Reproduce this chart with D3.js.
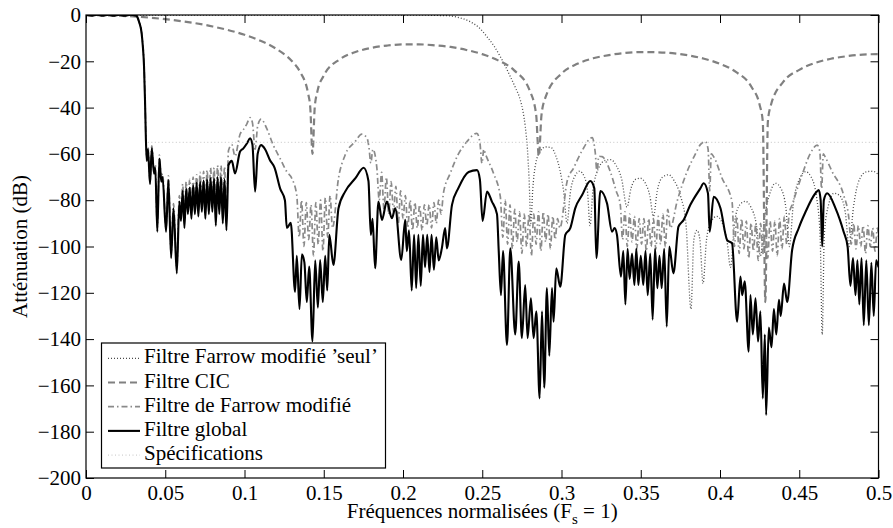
<!DOCTYPE html>
<html>
<head>
<meta charset="utf-8">
<script src="https://cdn.jsdelivr.net/npm/d3@7"></script>
<style>
body { margin: 0; background: white; }
</style>
</head>
<body>
<div id="canvas"></div>
<script>
"use strict"

/* Values: [normalised frequency, attenuation in dB] */
let farrowSeul = [
    [0, 0], [0.2, 0], [0.228, -0.3], [0.234, -0.9], [0.2424, -2.9], [0.248, -5.5], [0.253, -9.4],
    [0.2575, -13.5], [0.2614, -18], [0.2645, -22], [0.2677, -26.6], [0.271, -31.5], [0.274, -36.7],
    [0.2758, -42], [0.2771, -48], [0.2785, -58], [0.2795, -70], [0.2807, -90], [0.2818, -76],
    [0.2835, -65], [0.2865, -59], [0.29, -57], [0.2935, -57.3], [0.2965, -61], [0.299, -67],
    [0.3015, -77], [0.3035, -90], [0.3055, -77], [0.3085, -69.5], [0.3115, -67.5], [0.3145, -70],
    [0.3165, -77], [0.318, -91], [0.3198, -76], [0.3235, -66], [0.3275, -62.8], [0.331, -62.5],
    [0.3345, -65], [0.338, -71], [0.3413, -83], [0.3438, -75], [0.3467, -71], [0.3497, -70.5],
    [0.3528, -72.5], [0.3557, -78], [0.358, -87], [0.3604, -76], [0.3638, -70], [0.3676, -69],
    [0.371, -71.5], [0.375, -78], [0.3785, -90], [0.3817, -127], [0.3835, -97], [0.3855, -93],
    [0.3873, -97], [0.3893, -116], [0.3915, -97], [0.3945, -89], [0.398, -87], [0.4015, -90],
    [0.4045, -98], [0.4066, -109], [0.4093, -89], [0.4125, -82], [0.416, -80.5], [0.4195, -83],
    [0.4228, -90], [0.4255, -104], [0.428, -88], [0.4315, -77], [0.435, -72.7], [0.4385, -75],
    [0.4415, -83], [0.4438, -100], [0.4462, -82], [0.45, -71], [0.454, -67.7], [0.4575, -70],
    [0.461, -79], [0.4632, -96], [0.4645, -138], [0.4658, -95], [0.4685, -82], [0.472, -77],
    [0.4755, -78], [0.479, -85], [0.4815, -100], [0.4842, -83], [0.488, -71], [0.4925, -67.7],
    [0.4965, -67.5], [0.5, -69]
];

let cic = [
    [0, 0], [0.02, -0.28], [0.04, -1.13], [0.06, -2.63], [0.08, -4.97], [0.1, -8.54], [0.11, -11.1],
    [0.12, -14.6], [0.13, -20], [0.135, -24.5], [0.14, -33.5], [0.1415, -40], [0.1429, -60],
    [0.1443, -40], [0.146, -33], [0.15, -26.2], [0.16, -19.2], [0.17, -16], [0.18, -14.2],
    [0.19, -13.2], [0.2, -12.7], [0.21, -12.7], [0.22, -13.1], [0.23, -13.8], [0.24, -15.1],
    [0.25, -16.9], [0.26, -19.6], [0.27, -23.8], [0.28, -32.7], [0.284, -43], [0.2857, -61],
    [0.2874, -43], [0.29, -35.4], [0.3, -25.3], [0.31, -21.1], [0.32, -18.7], [0.33, -17.3],
    [0.34, -16.4], [0.35, -16], [0.36, -16.1], [0.37, -16.5], [0.38, -17.4], [0.39, -18.9],
    [0.4, -21.1], [0.41, -24.6], [0.42, -31.2], [0.425, -38.8], [0.427, -46], [0.4286, -124],
    [0.4302, -46], [0.432, -39.2], [0.44, -28.8], [0.45, -23.7], [0.46, -20.7], [0.47, -18.9],
    [0.48, -17.8], [0.49, -17.1], [0.5, -16.9]
];

let farrowModifie = [
    [0, 0], [0.031, 0], [0.032, -0.5], [0.0335, -3], [0.0351, -7.5], [0.0358, -12.5], [0.0366, -21],
    [0.0372, -35], [0.0377, -50], [0.0383, -61],
    [0.0391, -57], [0.0404, -72], [0.0415, -56.5], [0.0429, -67.5], [0.0437, -64.5], [0.045, -92],
    [0.0463, -60.5], [0.0475, -70.5], [0.0483, -68.5], [0.0505, -92], [0.052, -69.5], [0.0537, -103],
    [0.0552, -81.5], [0.0573, -109], [0.0589, -78],
    [0.0599, -86], [0.061, -73], [0.0621, -89], [0.0632, -72], [0.0643, -83], [0.0654, -71],
    [0.0665, -84.5], [0.0676, -70], [0.0687, -82.5], [0.0698, -69], [0.0709, -83], [0.072, -68],
    [0.0731, -81], [0.0742, -67.5], [0.0753, -83.5], [0.0764, -67], [0.0775, -81.5], [0.0786, -66],
    [0.0797, -80], [0.0808, -66], [0.0819, -85.5], [0.083, -65], [0.0841, -80.5], [0.0852, -65],
    [0.0863, -84.5], [0.0874, -65.5], [0.0886, -87],
    [0.0899, -58.5], [0.092, -56], [0.094, -61], [0.0972, -51.5], [0.0993, -49.5], [0.1015, -47],
    [0.1035, -44.3], [0.105, -46.5], [0.1067, -58], [0.1083, -48], [0.1105, -45], [0.114, -49],
    [0.118, -56], [0.1225, -62], [0.1267, -67.7], [0.1298, -70.5], [0.133, -78],
    [0.1345, -96], [0.136, -80], [0.1375, -100], [0.139, -81], [0.1405, -97], [0.142, -82],
    [0.1435, -104], [0.145, -81], [0.1465, -99], [0.148, -80], [0.1495, -102], [0.151, -79],
    [0.1525, -96], [0.154, -78], [0.1555, -92],
    [0.1593, -70.5], [0.1635, -60.5], [0.1698, -54.7], [0.174, -51.5], [0.1772, -53], [0.1785, -57],
    [0.1797, -64], [0.181, -58], [0.1835, -66],
    [0.185, -80], [0.1865, -68], [0.188, -84], [0.1895, -70], [0.191, -86], [0.1925, -72],
    [0.194, -85], [0.1955, -74], [0.197, -90], [0.1985, -76], [0.2, -88], [0.2015, -78],
    [0.203, -92], [0.2045, -80], [0.206, -93], [0.2075, -81], [0.209, -92], [0.2105, -82],
    [0.212, -93], [0.2135, -82], [0.215, -91], [0.2165, -82], [0.218, -92], [0.2195, -81],
    [0.221, -90], [0.2225, -80], [0.224, -86],
    [0.2255, -77], [0.2298, -68.4], [0.235, -60], [0.24, -55], [0.2466, -51.1], [0.2485, -55],
    [0.2498, -64], [0.251, -58], [0.2519, -59.8], [0.2571, -68.4], [0.2614, -78.5],
    [0.263, -96], [0.2645, -80], [0.266, -99], [0.2675, -82], [0.269, -101], [0.2705, -84],
    [0.272, -98], [0.2735, -85], [0.275, -103], [0.2765, -86], [0.278, -100], [0.2795, -86],
    [0.281, -104], [0.2825, -86], [0.284, -99], [0.2855, -85], [0.287, -102], [0.2885, -85],
    [0.29, -98], [0.2915, -86], [0.293, -101], [0.2945, -87], [0.296, -97], [0.2975, -88],
    [0.299, -92],
    [0.3035, -72], [0.3077, -66], [0.313, -58.6], [0.3193, -53], [0.3213, -59.5], [0.3224, -68],
    [0.3235, -61], [0.3256, -61.2], [0.3308, -67.7], [0.3345, -76], [0.3371, -82],
    [0.3385, -97], [0.34, -85], [0.3415, -100], [0.343, -86], [0.3445, -98], [0.346, -87],
    [0.3475, -101], [0.349, -88], [0.3505, -99], [0.352, -88], [0.3535, -102], [0.355, -88],
    [0.3565, -100], [0.358, -88], [0.3595, -101], [0.361, -87], [0.3625, -99], [0.364, -86],
    [0.3655, -100], [0.367, -84], [0.3687, -92],
    [0.3729, -80.6], [0.3792, -67.7], [0.3845, -60], [0.3876, -56], [0.3908, -54.7], [0.3925, -58],
    [0.3935, -76], [0.3945, -60], [0.396, -61.2], [0.4013, -70.5], [0.4076, -80.6],
    [0.4091, -100], [0.4106, -87], [0.4121, -103], [0.4136, -88], [0.4151, -101], [0.4166, -89],
    [0.4181, -105], [0.4196, -90], [0.4211, -102], [0.4226, -90], [0.4241, -106], [0.4256, -90],
    [0.4271, -103], [0.4286, -90], [0.4301, -105], [0.4316, -89], [0.4331, -102], [0.4346, -89],
    [0.4361, -104], [0.4376, -88], [0.4391, -101], [0.4406, -87], [0.4421, -99], [0.4436, -86],
    [0.4455, -82], [0.4518, -69], [0.457, -59.8], [0.4613, -56.2], [0.463, -59], [0.4641, -75],
    [0.4652, -60], [0.4665, -61.5], [0.4708, -67.7], [0.478, -77.8], [0.4813, -87.8],
    [0.4828, -99], [0.4843, -90], [0.4858, -101], [0.4873, -91], [0.4888, -100], [0.4903, -91],
    [0.4918, -103], [0.4933, -91], [0.4948, -100], [0.4963, -92], [0.4978, -102], [0.4993, -92],
    [0.5, -96]
];

let filtreGlobal = [
    [0, 0], [0.0035, -0.35], [0.007, 0.15], [0.0105, -0.35], [0.014, 0.15], [0.0175, -0.35],
    [0.021, 0.15], [0.0245, -0.35], [0.028, 0.15], [0.031, -0.2], [0.032, -0.5], [0.0335, -3],
    [0.0351, -7.9], [0.0358, -13], [0.0366, -22], [0.0372, -36], [0.0377, -51], [0.0383, -63],
    [0.0391, -58], [0.0404, -73], [0.0415, -57.6], [0.0429, -68.5], [0.0437, -66], [0.045, -93.6],
    [0.0463, -62], [0.0475, -72], [0.0483, -70], [0.0505, -93.6], [0.052, -71.3], [0.0537, -105],
    [0.0552, -83.5], [0.0573, -111.6], [0.0589, -80.6],
    [0.0599, -89], [0.061, -76], [0.0621, -92], [0.0632, -75], [0.0643, -86], [0.0654, -74.5],
    [0.0665, -88], [0.0676, -73.5], [0.0687, -86], [0.0698, -72.5], [0.0709, -87], [0.072, -72],
    [0.0731, -85], [0.0742, -71.5], [0.0753, -88], [0.0764, -71], [0.0775, -86], [0.0786, -70.5],
    [0.0797, -85], [0.0808, -70.5], [0.0819, -91], [0.083, -70], [0.0841, -86], [0.0852, -70],
    [0.0863, -90], [0.0874, -71], [0.0886, -93],
    [0.0899, -64.8], [0.092, -63], [0.094, -68.4], [0.0972, -59], [0.0993, -57.6], [0.1015, -55.5],
    [0.1035, -53.3], [0.105, -56], [0.1067, -76.3], [0.1083, -60], [0.1105, -56.2], [0.113, -58],
    [0.116, -62.6], [0.119, -66], [0.1225, -75], [0.1255, -80], [0.1267, -92], [0.1292, -89.8],
    [0.1319, -119.6], [0.133, -104], [0.1347, -127], [0.1362, -103.4], [0.1378, -107],
    [0.1393, -124], [0.1408, -108.7], [0.1429, -141], [0.1446, -106], [0.1463, -126.4],
    [0.1477, -105.8], [0.1494, -124], [0.1509, -104], [0.1522, -119], [0.1535, -95],
    [0.1561, -108], [0.1593, -83.5], [0.1635, -76.3], [0.17, -70.5], [0.1752, -66],
    [0.1782, -71.7], [0.1797, -95], [0.1808, -88], [0.1824, -109.4], [0.1845, -80.6],
    [0.1867, -88.5], [0.1898, -80.6], [0.193, -87.8], [0.1951, -83.5], [0.1989, -105.8],
    [0.2014, -88.5], [0.2024, -102],
    [0.2038, -93], [0.2055, -119], [0.207, -95], [0.2083, -118], [0.2097, -95], [0.2112, -117],
    [0.2126, -95], [0.2139, -109], [0.2153, -95], [0.2167, -111], [0.218, -95], [0.2195, -110],
    [0.221, -96], [0.2225, -106], [0.2245, -100.8], [0.2266, -92], [0.2277, -100.8],
    [0.2309, -82], [0.235, -74.7], [0.2414, -67.8], [0.2467, -67], [0.2485, -71], [0.2502, -89],
    [0.253, -76.3], [0.2561, -80.6], [0.2593, -86], [0.2604, -102], [0.2618, -121], [0.2631, -102],
    [0.2656, -142.5], [0.2677, -100.8], [0.2708, -138], [0.273, -106.5], [0.275, -139.6],
    [0.2771, -116.6], [0.2786, -139.6], [0.2807, -122.4], [0.2824, -139.6], [0.2841, -128],
    [0.2862, -165.6], [0.2877, -128], [0.2891, -161], [0.2908, -118], [0.2923, -147.2],
    [0.294, -118], [0.295, -132.5], [0.2967, -109.4], [0.2992, -117.4], [0.3024, -95],
    [0.3056, -92], [0.3087, -83.4], [0.313, -77.8], [0.3182, -71.7], [0.3207, -74.9],
    [0.322, -105], [0.3245, -76], [0.3287, -81.3], [0.3319, -93.6], [0.3335, -92], [0.335, -95],
    [0.3375, -113],
    [0.339, -102], [0.3403, -125], [0.3417, -101], [0.343, -114], [0.3445, -103], [0.346, -116.6],
    [0.3472, -101], [0.3485, -116.6], [0.35, -104], [0.3516, -116.6], [0.353, -102], [0.3544, -121],
    [0.356, -103], [0.3575, -131.6], [0.359, -101], [0.3605, -118], [0.3618, -104], [0.3632, -118],
    [0.3648, -101], [0.3664, -134.6],
    [0.368, -100], [0.3706, -111.6], [0.3738, -91.4], [0.377, -88.6], [0.3813, -82],
    [0.3876, -74.9], [0.3897, -72.7], [0.3924, -77], [0.3935, -93.6], [0.396, -78.5],
    [0.4003, -83.5], [0.4045, -97.2], [0.4076, -98.6], [0.4108, -132.5], [0.4129, -113],
    [0.414, -121], [0.4156, -115], [0.4181, -145.4], [0.4192, -121], [0.4207, -138],
    [0.4224, -122.4], [0.424, -141], [0.4255, -128], [0.427, -165.6], [0.4283, -138],
    [0.4291, -172.8], [0.4308, -135], [0.4325, -143.5], [0.434, -127], [0.4355, -138],
    [0.4372, -123], [0.4383, -130], [0.4404, -116], [0.4424, -124], [0.4455, -101.5],
    [0.4497, -92], [0.454, -85], [0.4602, -77], [0.4623, -75.6], [0.4635, -80], [0.4645, -100],
    [0.4655, -80], [0.4676, -77], [0.4729, -83.5], [0.478, -93.6], [0.4805, -100],
    [0.4823, -117], [0.4839, -105], [0.4855, -121], [0.4867, -106], [0.4879, -125],
    [0.4893, -105], [0.4907, -134], [0.4923, -106], [0.4939, -134], [0.4955, -107],
    [0.497, -130], [0.4985, -106], [0.5, -109]
];

let specifications = [[0.039, -55], [0.5, -55]];

let xTickValues = [0, 0.05, 0.1, 0.15, 0.2, 0.25, 0.3, 0.35, 0.4, 0.45, 0.5];
let xTickLabels = ["0", "0.05", "0.1", "0.15", "0.2", "0.25", "0.3", "0.35", "0.4", "0.45", "0.5"];
let yTickValues = [0, -20, -40, -60, -80, -100, -120, -140, -160, -180, -200];
let yTickLabels = ["0", "\u221220", "\u221240", "\u221260", "\u221280", "\u2212100", "\u2212120",
    "\u2212140", "\u2212160", "\u2212180", "\u2212200"];

let legendLabels = ["Filtre Farrow modifié \u2019seul\u2019", "Filtre CIC",
    "Filtre de Farrow modifié", "Filtre global", "Spécifications"];

/* Configuration variables: drawing */
let svgWidth = 893;
let svgHeight = 528;
let plotLeft = 86;
let plotRight = 878.5;
let plotTop = 15;
let plotBottom = 478;
let fontSize = 21;
let serif = "Liberation Serif";

let styles = [
    { stroke: "#4a4a4a", width: 1.3, dash: "1,2" },
    { stroke: "#808080", width: 2.2, dash: "7,4" },
    { stroke: "#8a8a8a", width: 1.7, dash: "6,3,1.5,3" },
    { stroke: "#000000", width: 2.1, dash: null },
    { stroke: "#c4c4c4", width: 1, dash: "1,2.5" }
];

let svg = d3.select("#canvas")
    .append("svg")
    .attr("width", svgWidth)
    .attr("height", svgHeight)
    .attr("font-family", serif);

svg.append("rect")
    .attr("width", svgWidth)
    .attr("height", svgHeight)
    .attr("fill", "white");

let xScale = d3.scaleLinear()
    .domain([0, 0.5])
    .range([plotLeft, plotRight]);

let yScale = d3.scaleLinear()
    .domain([-200, 0])
    .range([plotBottom, plotTop]);

/* Clip the curves to the axes box */
svg.append("clipPath")
    .attr("id", "plotClip")
    .append("rect")
    .attr("x", plotLeft)
    .attr("y", plotTop)
    .attr("width", plotRight - plotLeft)
    .attr("height", plotBottom - plotTop);

let line = d3.line()
    .x(d => xScale(d[0]))
    .y(d => yScale(d[1]))
    .curve(d3.curveMonotoneX);

let series = [farrowSeul, cic, farrowModifie, filtreGlobal, specifications];

let curves = svg.append("g").attr("clip-path", "url(#plotClip)");

series.forEach(function (data, i) {
    curves.append("path")
        .datum(data)
        .attr("d", line)
        .attr("fill", "none")
        .attr("stroke", styles[i].stroke)
        .attr("stroke-width", styles[i].width)
        .attr("stroke-dasharray", styles[i].dash)
        .attr("stroke-linejoin", "round");
});

/**** axes, ticks pointing inwards on all four sides ****/
let xAxis = d3.axisBottom(xScale)
    .tickValues(xTickValues)
    .tickFormat((d, i) => xTickLabels[i])
    .tickSizeInner(-8)
    .tickSizeOuter(0)
    .tickPadding(7);

let yAxis = d3.axisLeft(yScale)
    .tickValues(yTickValues)
    .tickFormat((d, i) => yTickLabels[i])
    .tickSizeInner(-8)
    .tickSizeOuter(0)
    .tickPadding(5);

svg.append("g")
    .attr("transform", "translate(0," + plotBottom + ")")
    .call(xAxis);

svg.append("g")
    .attr("transform", "translate(" + plotLeft + ",0)")
    .call(yAxis);

svg.append("g")
    .attr("transform", "translate(0," + plotTop + ")")
    .call(d3.axisTop(xScale).tickValues(xTickValues).tickFormat("").tickSizeInner(-8).tickSizeOuter(0));

svg.append("g")
    .attr("transform", "translate(" + plotRight + ",0)")
    .call(d3.axisRight(yScale).tickValues(yTickValues).tickFormat("").tickSizeInner(-8).tickSizeOuter(0));

svg.selectAll(".domain").remove();
svg.selectAll(".tick line").attr("stroke", "black").attr("stroke-width", 1);
svg.selectAll(".tick text")
    .attr("font-family", serif)
    .attr("font-size", fontSize)
    .attr("fill", "black");

/* Axes box */
svg.append("rect")
    .attr("x", plotLeft)
    .attr("y", plotTop)
    .attr("width", plotRight - plotLeft)
    .attr("height", plotBottom - plotTop)
    .attr("fill", "none")
    .attr("stroke", "black")
    .attr("stroke-width", 1.2);

/**** label the axes ****/
let xLabel = svg.append("text")
    .attr("x", (plotLeft + plotRight) / 2)
    .attr("y", 518)
    .attr("text-anchor", "middle")
    .attr("font-family", serif)
    .attr("font-size", fontSize);
xLabel.append("tspan").text("Fréquences normalisées (F");
xLabel.append("tspan").attr("font-size", 15).attr("dy", 6).text("s");
xLabel.append("tspan").attr("dy", -6).text(" = 1)");

svg.append("text")
    .attr("transform", "translate(27," + ((plotTop + plotBottom) / 2) + ") rotate(-90)")
    .attr("text-anchor", "middle")
    .attr("font-family", serif)
    .attr("font-size", fontSize)
    .text("Atténuation (dB)");

/**** legend ****/
let legendX = 101.5;
let legendY = 343;
let legendW = 284;
let legendH = 125;
let rowGap = 24.2;

let legend = svg.append("g");

legend.append("rect")
    .attr("x", legendX)
    .attr("y", legendY)
    .attr("width", legendW)
    .attr("height", legendH)
    .attr("fill", "white")
    .attr("stroke", "black")
    .attr("stroke-width", 1.2);

legendLabels.forEach(function (label, i) {
    let cy = legendY + 15.3 + i * rowGap;
    legend.append("line")
        .attr("x1", legendX + 6.5)
        .attr("x2", legendX + 38.5)
        .attr("y1", cy)
        .attr("y2", cy)
        .attr("stroke", styles[i].stroke)
        .attr("stroke-width", styles[i].width)
        .attr("stroke-dasharray", styles[i].dash);
    legend.append("text")
        .attr("x", legendX + 42.5)
        .attr("y", cy + 5)
        .attr("font-family", serif)
        .attr("font-size", fontSize)
        .text(label);
});
</script>
</body>
</html>
